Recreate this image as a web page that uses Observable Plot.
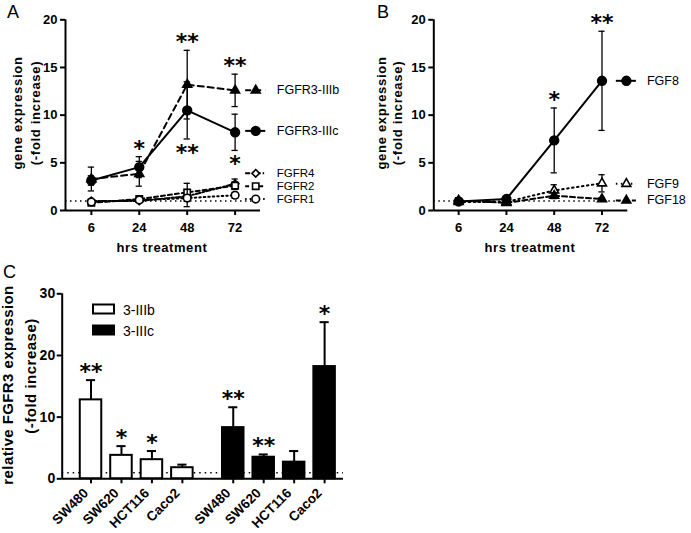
<!DOCTYPE html>
<html><head><meta charset="utf-8">
<script src="https://cdn.jsdelivr.net/npm/d3@7"></script>
<script src="https://cdn.jsdelivr.net/npm/@observablehq/plot@0.6"></script>
<style>
body{margin:0;background:#fff;}
#root{position:relative;width:691px;height:533px;overflow:hidden;background:#fff;}
#root > svg{position:absolute;}
</style></head><body><div id="root"></div>
<script>
// ---------- DATA ----------
const hours = ["6", "24", "48", "72"];

// Panel A: FGFR expression (-fold increase)
const fgfr3IIIbMean = [3.3, 3.85, 13.2, 12.6];
const fgfr3IIIbSem  = [1.25, 1.3, 3.6, 1.7];
const fgfr3IIIcMean = [3.15, 4.55, 10.5, 8.2];
const fgfr3IIIcSem  = [0.5, 1.1, 3.0, 1.9];
const fgfr4Mean = [1.0, 1.0, 1.5, 2.8];
const fgfr4Sem  = [0.2, 0.15, 0.35, 0.5];
const fgfr2Mean = [0.8, 1.2, 1.9, 2.6];
const fgfr2Sem  = [0.15, 0.2, 0.95, 0.4];
const fgfr1Mean = [0.9, 1.1, 1.3, 1.6];
const fgfr1Sem  = [0.2, 0.15, 0.9, 0.3];
const starsA = [
  {series: "FGFR3-IIIc", hour: "24", mark: "*",  side: "above"},
  {series: "FGFR3-IIIb", hour: "48", mark: "**", side: "above"},
  {series: "FGFR3-IIIc", hour: "48", mark: "**", side: "below"},
  {series: "FGFR3-IIIb", hour: "72", mark: "**", side: "above"},
  {series: "FGFR3-IIIc", hour: "72", mark: "*",  side: "below"}
];

// Panel B: FGF expression
const fgf8Mean  = [0.95, 1.2, 7.35, 13.6];
const fgf8Sem   = [0.25, 0.2, 3.4, 5.2];
const fgf9Mean  = [0.9, 0.9, 2.1, 2.85];
const fgf9Sem   = [0.1, 0.1, 0.6, 0.9];
const fgf18Mean = [1.05, 0.8, 1.55, 1.2];
const fgf18Sem  = [0.3, 0.15, 0.3, 0.15];
const starsB = [
  {series: "FGF8", hour: "48", mark: "*",  side: "above"},
  {series: "FGF8", hour: "72", mark: "**", side: "above"}
];

// Panel C: relative FGFR3 expression per cell line
const cellLines = ["SW480", "SW620", "HCT116", "Caco2"];
const isoforms = ["3-IIIb", "3-IIIc"];
const iiibMean = [12.8, 3.8, 3.1, 1.8];
const iiibSem  = [3.2, 1.5, 1.4, 0.5];
const iiicMean = [8.3, 3.5, 2.7, 18.2];
const iiicSem  = [3.3, 0.45, 1.8, 7.2];
const iiibStars = ["**", "*", "*", ""];
const iiicStars = ["**", "**", "", "*"];

// ---------- STYLE / LAYOUT ----------
const FONT = "'Liberation Sans', Arial, sans-serif";
const STARFONT = "'DejaVu Sans', sans-serif";
const root = document.getElementById("root");

function linePanel(cfg) {
  const {series, stars, xDomain, leg, width, height, margin} = cfg;
  const marks = [];
  marks.push(Plot.ruleY([1], {x1: xDomain[0], x2: xDomain[1], stroke: "black", strokeWidth: 1.5, strokeDasharray: "1.5,3.5"}));
  const byName = {};
  for (const s of series) {
    const rows = hours.map((h, i) => ({i, h, v: s.mean[i], e: s.sem[i]}));
    byName[s.name] = rows;
    const cw = 0.065;
    marks.push(Plot.ruleX(rows, {x: "i", y1: d => d.v - d.e, y2: d => d.v + d.e, stroke: "black", strokeWidth: 1.3}));
    marks.push(Plot.ruleY(rows, {y: d => d.v + d.e, x1: d => d.i - cw, x2: d => d.i + cw, stroke: "black", strokeWidth: 1.3}));
    marks.push(Plot.ruleY(rows, {y: d => d.v - d.e, x1: d => d.i - cw, x2: d => d.i + cw, stroke: "black", strokeWidth: 1.3}));
    marks.push(Plot.line(rows, {x: "i", y: "v", stroke: "black", strokeWidth: 2, strokeDasharray: s.dash}));
    marks.push(Plot.dot(rows, {x: "i", y: "v", r: s.r, symbol: s.symbol, fill: s.fill, stroke: "black", strokeWidth: 1.6}));
    const L = [{y: s.legendY, name: s.name}];
    marks.push(Plot.ruleY(L, {y: "y", x1: leg.x1, x2: leg.x2, stroke: "black", strokeWidth: 2, strokeDasharray: s.dash}));
    marks.push(Plot.dot(L, {x: leg.sym, y: "y", r: s.r, symbol: s.symbol, fill: s.fill, stroke: "black", strokeWidth: 1.6}));
    marks.push(Plot.text(L, {x: leg.text, y: "y", text: "name", textAnchor: "start", fontWeight: "normal", fontSize: s.legendSize || 12.5, fontFamily: FONT}));
  }
  for (const st of stars) {
    const d = byName[st.series][hours.indexOf(st.hour)];
    const above = st.side === "above";
    marks.push(Plot.text([st], {
      x: () => d.i, y: () => above ? d.v + d.e : d.v - d.e, text: "mark",
      lineAnchor: "bottom", dy: above ? -1 : 21,
      fontFamily: STARFONT, fontWeight: "bold", fontSize: 22
    }));
  }
  marks.push(Plot.ruleX([xDomain[0]], {y1: 0, y2: 20, stroke: "black", strokeWidth: 2}));
  marks.push(Plot.ruleY([0], {x1: xDomain[0], x2: xDomain[1], stroke: "black", strokeWidth: 2}));
  marks.push(Plot.axisY({ticks: [0, 5, 10, 15, 20], tickSize: 5, tickPadding: 3, strokeWidth: 2, label: null}));
  marks.push(Plot.axisX({ticks: [0, 1, 2, 3], tickFormat: i => hours[i], tickSize: 5, tickPadding: 7, strokeWidth: 2, label: null}));
  return Plot.plot({
    width, height,
    marginLeft: margin[0], marginRight: margin[1], marginTop: margin[2], marginBottom: margin[3],
    x: {type: "linear", domain: xDomain},
    y: {domain: [0, 20]},
    style: {fontFamily: FONT, fontSize: "13px", fontWeight: "bold", background: "transparent", overflow: "visible", color: "black"},
    marks
  });
}

// Panel A
const svgA = linePanel({
  width: 345, height: 260, margin: [65, 85, 19.3, 50],
  xDomain: [-0.54, 3.53],
  leg: {x1: 3.22, x2: 3.64, sym: 3.43, text: 3.87},
  series: [
    {name: "FGFR3-IIIb", mean: fgfr3IIIbMean, sem: fgfr3IIIbSem, symbol: "triangle", fill: "black", r: 3.3, dash: "6,4", legendY: 12.6},
    {name: "FGFR3-IIIc", mean: fgfr3IIIcMean, sem: fgfr3IIIcSem, symbol: "circle", fill: "black", r: 4.4, dash: null, legendY: 8.35},
    {name: "FGFR4", mean: fgfr4Mean, sem: fgfr4Sem, symbol: "diamond2", fill: "white", r: 3.4, dash: "5,2,1.5,2", legendY: 3.9, legendSize: 11.5},
    {name: "FGFR2", mean: fgfr2Mean, sem: fgfr2Sem, symbol: "square", fill: "white", r: 3.6, dash: "4,3", legendY: 2.55, legendSize: 11.5},
    {name: "FGFR1", mean: fgfr1Mean, sem: fgfr1Sem, symbol: "circle", fill: "white", r: 3.8, dash: "1.5,3", legendY: 1.2, legendSize: 11.5}
  ],
  stars: starsA
});
svgA.style.left = "0px"; svgA.style.top = "0px";
root.appendChild(svgA);

// Panel B
const svgB = linePanel({
  width: 346, height: 260, margin: [88.3, 63.7, 19.3, 50],
  xDomain: [-0.52, 3.54],
  leg: {x1: 3.30, x2: 3.72, sym: 3.51, text: 3.94},
  series: [
    {name: "FGF8", mean: fgf8Mean, sem: fgf8Sem, symbol: "circle", fill: "black", r: 4.4, dash: null, legendY: 13.6},
    {name: "FGF9", mean: fgf9Mean, sem: fgf9Sem, symbol: "triangle", fill: "white", r: 3.3, dash: "1.5,3.5", legendY: 2.8},
    {name: "FGF18", mean: fgf18Mean, sem: fgf18Sem, symbol: "triangle", fill: "black", r: 3.3, dash: "5,3", legendY: 1.05}
  ],
  stars: starsB
});
svgB.style.left = "345px"; svgB.style.top = "0px";
root.appendChild(svgB);

// Panel C
const gapC = 4.67;
const rowsC = [];
isoforms.forEach((iso, g) => {
  const mean = g === 0 ? iiibMean : iiicMean;
  const sem = g === 0 ? iiibSem : iiicSem;
  const st = g === 0 ? iiibStars : iiicStars;
  cellLines.forEach((c, k) => rowsC.push({iso, g, cell: c, p: g * gapC + k, v: mean[k], e: sem[k], star: st[k]}));
});
const xDomainC = [-0.946, 8.29];
const bw = 0.353, cwC = 0.15;
const svgC = Plot.plot({
  width: 345, height: 263,
  marginLeft: 61.7, marginRight: 2, marginTop: 23.3, marginBottom: 54.7,
  x: {type: "linear", domain: xDomainC},
  y: {type: "linear", domain: [0, 30]},
  style: {fontFamily: FONT, fontSize: "14px", fontWeight: "bold", background: "transparent", overflow: "visible", color: "black"},
  marks: [
    Plot.ruleY([1], {x1: xDomainC[0], x2: xDomainC[1], stroke: "black", strokeWidth: 1.5, strokeDasharray: "1.5,4"}),
    Plot.ruleX(rowsC, {x: "p", y1: "v", y2: d => d.v + d.e, stroke: "black", strokeWidth: 2}),
    Plot.ruleY(rowsC, {y: d => d.v + d.e, x1: d => d.p - cwC, x2: d => d.p + cwC, stroke: "black", strokeWidth: 2}),
    Plot.rect(rowsC, {x1: d => d.p - bw, x2: d => d.p + bw, y1: 0, y2: "v", fill: d => d.g === 0 ? "white" : "black", stroke: "black", strokeWidth: 2}),
    Plot.text(rowsC.filter(d => d.star), {x: "p", y: d => d.v + d.e, text: "star", lineAnchor: "bottom", dy: -1, fontFamily: STARFONT, fontWeight: "bold", fontSize: 22}),
    Plot.ruleX([xDomainC[0]], {y1: 0, y2: 30, stroke: "black", strokeWidth: 2}),
    Plot.ruleY([0], {x1: xDomainC[0], x2: xDomainC[1], stroke: "black", strokeWidth: 2}),
    Plot.axisY({ticks: [0, 10, 20, 30], tickSize: 5, tickPadding: 2, strokeWidth: 2, label: null}),
    Plot.axisX({ticks: rowsC.map(d => d.p), tickFormat: () => "", tickSize: 5, strokeWidth: 2, label: null}),
    Plot.text(rowsC, {x: "p", y: () => 0, text: "cell", rotate: -45, textAnchor: "end", lineAnchor: "middle", dx: -5, dy: 12, fontSize: 13.5})
  ]
});
svgC.style.left = "0px"; svgC.style.top = "270px";
root.appendChild(svgC);

// ---------- Titles, panel letters and bar legend ----------
const ov = d3.select(root).append("svg")
  .attr("width", 691).attr("height", 533)
  .style("left", "0px").style("top", "0px")
  .style("font-family", FONT).style("pointer-events", "none");

function txt(x, y, s, opts = {}) {
  const t = ov.append("text").attr("x", x).attr("y", y).text(s)
    .attr("font-size", opts.size || 13)
    .attr("font-weight", opts.weight || "normal")
    .attr("text-anchor", opts.anchor || "start")
    .attr("fill", "black");
  if (opts.ls) t.attr("letter-spacing", opts.ls);
  if (opts.rot) t.attr("transform", `rotate(${opts.rot},${x},${y})`);
  return t;
}
txt(7, 18, "A", {size: 18});
txt(377, 18, "B", {size: 18});
txt(3, 278, "C", {size: 18});
txt(162, 251.5, "hrs treatment", {size: 13, weight: "bold", anchor: "middle", ls: 0.6});
txt(530, 251.5, "hrs treatment", {size: 13, weight: "bold", anchor: "middle", ls: 0.6});
txt(21.5, 113, "gene expression", {size: 13, weight: "bold", anchor: "middle", ls: 0.7, rot: -90});
txt(39.5, 113, "(-fold increase)", {size: 13, weight: "bold", anchor: "middle", ls: 0.7, rot: -90});
txt(386.3, 113, "gene expression", {size: 13, weight: "bold", anchor: "middle", ls: 0.7, rot: -90});
txt(401.5, 113, "(-fold increase)", {size: 13, weight: "bold", anchor: "middle", ls: 0.7, rot: -90});
txt(13, 385, "relative FGFR3 expression", {size: 15, weight: "bold", anchor: "middle", ls: 0.4, rot: -90});
txt(36, 376, "(-fold increase)", {size: 15, weight: "bold", anchor: "middle", ls: 0.5, rot: -90});
ov.append("rect").attr("x", 93).attr("y", 304.5).attr("width", 21).attr("height", 9).attr("fill", "white").attr("stroke", "black").attr("stroke-width", 2);
ov.append("rect").attr("x", 93).attr("y", 325.5).attr("width", 21).attr("height", 9).attr("fill", "black").attr("stroke", "black").attr("stroke-width", 2);
txt(123, 315, isoforms[0], {size: 14});
txt(123, 336, isoforms[1], {size: 14});
</script></body></html>
